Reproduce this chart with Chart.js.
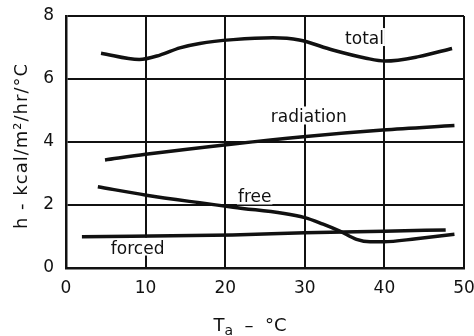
<!DOCTYPE html>
<html>
<head>
<meta charset="utf-8">
<script src="https://cdn.jsdelivr.net/npm/chart.js@4.4.1/dist/chart.umd.min.js"></script>
<style>
  html, body { margin: 0; padding: 0; background: #fff; }
  canvas { display: block; }
</style>
</head>
<body>
<canvas id="chart" width="474" height="336"></canvas>
<script>
// values (T in °C, h in kcal/m2/hr/°C)
const totalT = [4.4, 9.2, 11.8, 14.3, 16.8, 21, 26, 29.3, 33.5, 37.7, 40.1, 44.3, 48.5];
const totalH = [6.82, 6.62, 6.76, 6.99, 7.13, 7.25, 7.31, 7.24, 6.92, 6.66, 6.57, 6.71, 6.97];
const radT = [4.9, 10, 21, 29.8, 39.8, 48.8];
const radH = [3.43, 3.61, 3.94, 4.17, 4.38, 4.52];
const freeT = [4.0, 10.1, 16.8, 21, 30, 32.3, 34.4, 36.5, 38.2, 39.9, 44, 48.8];
const freeH = [2.58, 2.31, 2.07, 1.93, 1.6, 1.39, 1.17, 0.91, 0.83, 0.83, 0.93, 1.07];
const forcedT = [2, 20.9, 30, 40, 47.7];
const forcedH = [0.99, 1.05, 1.12, 1.17, 1.21];

const curveNames = ['total', 'radiation', 'free', 'forced'];
const labelT = [37.5, 30.5, 23.7, 9.0];
const labelH = [7.25, 4.76, 2.22, 0.6];

const xTicks = [0, 10, 20, 30, 40, 50];
const yTicks = [0, 2, 4, 6, 8];

const FONT = '"DejaVu Sans", sans-serif';
const ink = '#111';

function pts(xs, ys) { return xs.map((x, i) => ({x: x, y: ys[i]})); }

// curve names; the grid is blanked under each word like in the original drawing
const curveLabels = {
  id: 'curveLabels',
  beforeDatasetsDraw(chart) {
    const {ctx, scales: {x, y}} = chart;
    ctx.save();
    ctx.font = '17px ' + FONT;
    ctx.textAlign = 'center';
    ctx.textBaseline = 'middle';
    curveNames.forEach((n, i) => {
      const px = x.getPixelForValue(labelT[i]), py = y.getPixelForValue(labelH[i]);
      const m = ctx.measureText(n);
      ctx.fillStyle = '#fff';
      ctx.fillRect(px - m.width / 2 - 1, py - m.actualBoundingBoxAscent - 2, m.width + 2, m.actualBoundingBoxAscent + m.actualBoundingBoxDescent + 4);
      ctx.fillStyle = ink;
      ctx.fillText(n, px, py);
    });
    ctx.restore();
  }
};

const axisTitles = {
  id: 'axisTitles',
  afterDraw(chart) {
    const ctx = chart.ctx;
    ctx.save();
    ctx.fillStyle = ink;
    // y title, rotated
    ctx.translate(22, 146);
    ctx.rotate(-Math.PI / 2);
    ctx.font = '18px ' + FONT;
    ctx.letterSpacing = '1px';
    ctx.textAlign = 'center';
    ctx.textBaseline = 'middle';
    ctx.fillText('h - kcal/m\u00b2/hr/\u00b0C', 0, 0);
    ctx.restore();

    // x title with subscript
    ctx.save();
    ctx.fillStyle = ink;
    ctx.textBaseline = 'alphabetic';
    ctx.textAlign = 'left';
    const big = '18px ' + FONT, small = '14px ' + FONT;
    ctx.font = big; const wT = ctx.measureText('T').width;
    ctx.font = small; const wa = ctx.measureText('a').width;
    ctx.font = big; const rest = '  \u2013  \u00b0C'; const wr = ctx.measureText(rest).width;
    let x0 = 250 - (wT + wa + wr) / 2;
    ctx.fillText('T', x0, 331);
    ctx.font = small; ctx.fillText('a', x0 + wT, 335);
    ctx.font = big; ctx.fillText(rest, x0 + wT + wa, 331);
    ctx.restore();
  }
};

const lineStyle = {borderColor: ink, borderWidth: 3.5, pointRadius: 0, fill: false, cubicInterpolationMode: 'monotone'};

new Chart(document.getElementById('chart'), {
  type: 'line',
  data: {
    datasets: [
      {label: 'total', data: pts(totalT, totalH), ...lineStyle},
      {label: 'radiation', data: pts(radT, radH), ...lineStyle},
      {label: 'free', data: pts(freeT, freeH), ...lineStyle},
      {label: 'forced', data: pts(forcedT, forcedH), ...lineStyle}
    ]
  },
  options: {
    responsive: false,
    animation: false,
    layout: {padding: {left: 0, right: 10, top: 16, bottom: 0}},
    plugins: {legend: {display: false}, tooltip: {enabled: false}},
    scales: {
      x: {
        type: 'linear', min: 0, max: 50,
        afterFit: s => { s.height = 68; s.paddingLeft = 0; s.paddingRight = 0; },
        afterBuildTicks: s => { s.ticks = xTicks.map(v => ({value: v})); },
        grid: {color: ink, lineWidth: 2, drawTicks: false},
        border: {color: ink, width: 2.5},
        ticks: {color: ink, font: {family: FONT, size: 17}, padding: 10, maxRotation: 0}
      },
      y: {
        type: 'linear', min: 0, max: 8,
        afterFit: s => { s.width = 66; s.paddingTop = 0; s.paddingBottom = 0; },
        afterBuildTicks: s => { s.ticks = yTicks.map(v => ({value: v})); },
        grid: {color: ink, lineWidth: 2, drawTicks: false},
        border: {color: ink, width: 2.5},
        ticks: {color: ink, font: {family: FONT, size: 17}, padding: 12}
      }
    }
  },
  plugins: [curveLabels, axisTitles]
});
</script>
</body>
</html>
